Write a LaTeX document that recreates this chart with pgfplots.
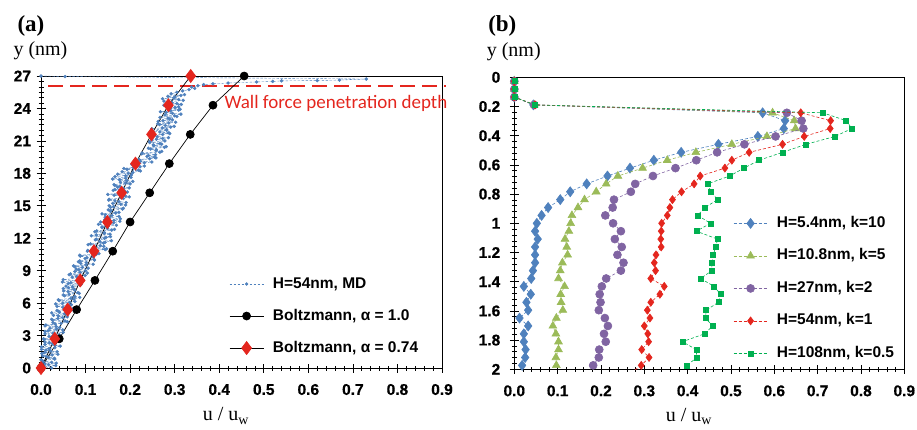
\documentclass[border=0pt]{standalone}
\usepackage{pgfplots}
\pgfplotsset{compat=1.18}
\usepackage{fontspec}
\setmainfont{Liberation Serif}
\setsansfont{Liberation Sans}
\newfontfamily\carlito{Carlito}
\newfontfamily\tickfont{Liberation Sans Bold}[FakeBold=0.6]
\definecolor{mdblue}{RGB}{79,129,189}
\definecolor{bzred}{RGB}{228,38,30}
\definecolor{olivec}{RGB}{155,187,89}
\definecolor{purp}{RGB}{128,100,162}
\definecolor{grn}{RGB}{0,176,80}
\pgfplotsset{
  mystyle/.style={
    scale only axis,
    axis line style={line width=0.9pt},
    tick align=center,
    major tick length=9pt,
    minor tick length=5pt,
    tick style={black, line width=0.6pt},
    xtick pos=bottom, ytick pos=left,
    tick label style={font=\tickfont\fontsize{15.5}{15.5}\selectfont},
    /pgf/number format/assume math mode=true,
    xticklabel={\tickfont\pgfmathprintnumber{\tick}},
    yticklabel={\tickfont\pgfmathprintnumber{\tick}},
    xmin=0, xmax=0.9,
    xtick={0,0.1,0.2,0.3,0.4,0.5,0.6,0.7,0.8,0.9},
    x tick label style={/pgf/number format/fixed, /pgf/number format/fixed zerofill, /pgf/number format/precision=1},
    xticklabel style={yshift=-8pt},
    minor x tick num=4,
    legend cell align=left,
    legend image code/.code={\draw[mark repeat=2,mark phase=2,##1] plot coordinates {(0pt,0pt) (17pt,0pt) (34pt,0pt)};},
    legend style={draw=none, fill=none, inner sep=0pt,
      font=\fontsize{15.5}{15.5}\selectfont\sffamily\bfseries,
      nodes={inner sep=0pt, text height=11pt, text depth=3pt},
      /tikz/every odd column/.append style={column sep=9pt}},
  },
  mdstyle/.style={mdblue, line width=0.4pt, dash pattern=on 2.5pt off 1.5pt, mark=*, mark size=1.5pt, mark options={solid}},
}
\begin{document}
\begin{tikzpicture}
\path[use as bounding box] (0pt,0pt) rectangle (917pt,429pt);
% ---------------- panel (a)
\begin{axis}[mystyle, at={(41pt,61pt)}, anchor=south west,
  width=401pt, height=292pt, clip=false,
  ymin=0, ymax=27, ytick={0,3,...,27}, minor y tick num=5,
  yticklabel style={xshift=-2pt},
  legend style={at={(axis description cs:0.469,0.178)}, anchor=west, row sep=18pt}]
\addplot[mdstyle] coordinates {
(0.024,0) (0.002,0.15) (0.017,0.30) (0.034,0.45) (0.005,0.60) (0.000,0.75) (0.030,0.90) (0.012,1.05) (0.025,1.20) (0.002,1.35) (0.036,1.50) (0.011,1.65) (0.018,1.80) (0.001,1.95) (0.032,2.10) (0.026,2.25) (0.009,2.40) (0.045,2.55) (0.006,2.70) (0.026,2.85)
(0.027,3.00) (0.009,3.15) (0.050,3.30) (0.016,3.45) (0.035,3.60) (0.042,3.75) (0.009,3.90) (0.032,4.05) (0.027,4.20) (0.054,4.35) (0.024,4.50) (0.049,4.65) (0.039,4.80) (0.059,4.95) (0.024,5.10) (0.039,5.25) (0.071,5.40) (0.056,5.55) (0.036,5.70) (0.068,5.85)
(0.049,6.00) (0.076,6.15) (0.039,6.30) (0.067,6.45) (0.076,6.60) (0.050,6.75) (0.086,6.90) (0.061,7.05) (0.076,7.20) (0.050,7.35) (0.071,7.50) (0.088,7.65) (0.061,7.80) (0.048,7.95) (0.081,8.10) (0.091,8.25) (0.070,8.40) (0.099,8.55) (0.066,8.70) (0.088,8.85)
(0.100,9.00) (0.079,9.15) (0.093,9.30) (0.073,9.45) (0.117,9.60) (0.102,9.75) (0.087,9.90) (0.119,10.05) (0.103,10.20) (0.088,10.35) (0.124,10.50) (0.120,10.65) (0.104,10.80) (0.144,10.95) (0.119,11.10) (0.141,11.25) (0.106,11.40) (0.140,11.55) (0.132,11.70) (0.122,11.85)
(0.143,12.00) (0.156,12.15) (0.124,12.30) (0.142,12.45) (0.121,12.60) (0.159,12.75) (0.149,12.90) (0.137,13.05) (0.169,13.20) (0.145,13.35) (0.134,13.50) (0.164,13.65) (0.178,13.80) (0.144,13.95) (0.159,14.10) (0.137,14.25) (0.175,14.40) (0.157,14.55) (0.183,14.70) (0.156,14.85)
(0.153,15.00) (0.179,15.15) (0.191,15.30) (0.166,15.45) (0.153,15.60) (0.180,15.75) (0.190,15.90) (0.150,16.05) (0.178,16.20) (0.188,16.35) (0.166,16.50) (0.198,16.65) (0.177,16.80) (0.164,16.95) (0.190,17.10) (0.206,17.25) (0.176,17.40) (0.190,17.55) (0.166,17.70) (0.203,17.85)
(0.196,18.00) (0.182,18.15) (0.219,18.30) (0.186,18.45) (0.222,18.60) (0.216,18.75) (0.213,18.90) (0.249,19.05) (0.214,19.20) (0.244,19.35) (0.255,19.50) (0.241,19.65) (0.226,19.80) (0.267,19.95) (0.258,20.10) (0.246,20.25) (0.277,20.40) (0.253,20.55) (0.271,20.70) (0.244,20.85)
(0.278,21.00) (0.259,21.15) (0.286,21.30) (0.252,21.45) (0.273,21.60) (0.287,21.75) (0.250,21.90) (0.282,22.05) (0.272,22.20) (0.299,22.35) (0.266,22.50) (0.287,22.65) (0.263,22.80) (0.295,22.95) (0.285,23.10) (0.305,23.25) (0.278,23.40) (0.295,23.55) (0.268,23.70) (0.309,23.85)
(0.291,24.00) (0.309,24.15) (0.276,24.30) (0.305,24.45) (0.286,24.60) (0.319,24.75) (0.273,24.90) (0.301,25.05) (0.314,25.20) (0.292,25.35)
(0.305,25.50) (0.318,25.62) (0.332,25.74) (0.345,25.86) (0.338,25.98) (0.352,26.10) (0.365,26.20) (0.386,26.28) (0.420,26.35) (0.484,26.45) (0.520,26.50) (0.540,26.55) (0.620,26.58) (0.670,26.62) (0.730,26.72) (0.054,26.95) (0.000,27.00)
};
\addlegendentry{H=54nm, MD}
\addplot[mdstyle, forget plot] coordinates {
(0.000,0.075) (0.033,0.225) (0.009,0.375) (0.024,0.525) (0.003,0.675) (0.031,0.825) (0.017,0.975) (0.004,1.125) (0.038,1.275) (0.008,1.425) (0.022,1.575) (0.001,1.725) (0.031,1.875) (0.043,2.025) (0.009,2.175) (0.019,2.325) (0.039,2.475) (0.007,2.625) (0.031,2.775) (0.018,2.925)
(0.041,3.075) (0.027,3.225) (0.009,3.375) (0.049,3.525) (0.020,3.675) (0.034,3.825) (0.011,3.975) (0.045,4.125) (0.059,4.275) (0.026,4.425) (0.038,4.575) (0.059,4.725) (0.028,4.875) (0.053,5.025) (0.041,5.175) (0.036,5.325) (0.071,5.475) (0.049,5.625) (0.065,5.775) (0.033,5.925)
(0.064,6.075) (0.041,6.225) (0.074,6.375) (0.087,6.525) (0.053,6.675) (0.063,6.825) (0.083,6.975) (0.051,7.125) (0.075,7.275) (0.062,7.425) (0.056,7.575) (0.090,7.725) (0.067,7.875) (0.082,8.025) (0.050,8.175) (0.092,8.325) (0.080,8.475) (0.063,8.625) (0.104,8.775) (0.076,8.925)
(0.085,9.075) (0.106,9.225) (0.076,9.375) (0.101,9.525) (0.089,9.675) (0.084,9.825) (0.120,9.975) (0.099,10.125) (0.117,10.275) (0.087,10.425) (0.130,10.575) (0.120,10.725) (0.105,10.875) (0.147,11.025) (0.119,11.175) (0.133,11.325) (0.111,11.475) (0.144,11.625) (0.158,11.775) (0.124,11.925)
(0.146,12.075) (0.113,12.225) (0.155,12.375) (0.142,12.525) (0.125,12.675) (0.165,12.825) (0.137,12.975) (0.151,13.125) (0.129,13.275) (0.163,13.425) (0.177,13.575) (0.143,13.725) (0.154,13.875) (0.175,14.025) (0.144,14.175) (0.168,14.325) (0.156,14.475) (0.151,14.625) (0.185,14.775) (0.163,14.925)
(0.190,15.075) (0.161,15.225) (0.175,15.375) (0.152,15.525) (0.185,15.675) (0.198,15.825) (0.164,15.975) (0.174,16.125) (0.194,16.275) (0.162,16.425) (0.186,16.575) (0.172,16.725) (0.166,16.875) (0.200,17.025) (0.178,17.175) (0.193,17.325) (0.161,17.475) (0.202,17.625) (0.190,17.775) (0.172,17.925)
(0.206,18.075) (0.223,18.225) (0.193,18.375) (0.207,18.525) (0.232,18.675) (0.204,18.825) (0.232,18.975) (0.223,19.125) (0.220,19.275) (0.258,19.425) (0.238,19.575) (0.257,19.725) (0.227,19.875) (0.271,20.025) (0.259,20.175) (0.241,20.325) (0.281,20.475) (0.252,20.625) (0.267,20.775) (0.244,20.925)
(0.249,21.075) (0.273,21.225) (0.261,21.375) (0.255,21.525) (0.289,21.675) (0.267,21.825) (0.282,21.975) (0.249,22.125) (0.291,22.275) (0.279,22.425) (0.262,22.575) (0.302,22.725) (0.274,22.875) (0.289,23.025) (0.267,23.175) (0.300,23.325) (0.314,23.475) (0.281,23.625) (0.291,23.775) (0.312,23.925)
(0.301,24.075) (0.280,24.225) (0.315,24.375) (0.294,24.525) (0.276,24.675) (0.309,24.825) (0.298,24.975) (0.285,25.125) (0.322,25.275)
};
\addplot[bzred, line width=2.2pt, dash pattern=on 15pt off 7pt, forget plot] coordinates {(0.016,26.1) (0.91,26.1)};
\addplot[black, line width=0.7pt, mark=*, mark size=4pt] coordinates {
(0,0) (0.041,2.7) (0.080,5.4) (0.121,8.1) (0.161,10.8) (0.200,13.5) (0.244,16.2) (0.288,18.9) (0.335,21.6) (0.386,24.3) (0.456,27)};
\addlegendentry{Boltzmann, α = 1.0}
\addplot[black, line width=0.7pt, mark=diamond*, mark size=6.5pt, mark options={fill=bzred, draw=bzred}] coordinates {
(0,0) (0.031,2.7) (0.060,5.4) (0.088,8.1) (0.119,10.8) (0.149,13.5) (0.181,16.2) (0.212,18.9) (0.248,21.6) (0.286,24.3) (0.336,27)};
\addlegendentry{Boltzmann, α = 0.74}
\node[anchor=west, text=bzred, font=\carlito\fontsize{19}{19}\selectfont] at (axis cs:0.404,24.5) {Wall force penetration depth};
\node[anchor=west, xshift=-31pt, yshift=25pt, font=\fontsize{20}{20}\selectfont] at (axis description cs:0,1) {y (nm)};
\node[xshift=-10pt, yshift=50pt, font=\bfseries\fontsize{23}{23}\selectfont] at (axis description cs:0,1) {(a)};
\node[yshift=-48pt, font=\fontsize{20}{20}\selectfont] at (axis description cs:0.461,0) {u / u\textsubscript{w}};
\end{axis}
% ---------------- panel (b)
\begin{axis}[mystyle, at={(514.3pt,59.7pt)}, anchor=south west,
  width=390pt, height=292pt, clip mode=individual,
  ymin=0, ymax=2, y dir=reverse,
  ytick={0,0.2,0.4,0.6,0.8,1,1.2,1.4,1.6,1.8,2}, minor y tick num=4,
  y tick label style={/pgf/number format/fixed, /pgf/number format/precision=1},
  yticklabel style={xshift=-6pt},
  legend style={at={(axis description cs:0.561,0.277)}, anchor=west, row sep=18.5pt}]
\addplot[mdblue, line width=0.6pt, dash pattern=on 3pt off 2pt, mark=diamond*, mark size=5pt, mark options={solid}] coordinates {
(0,0.027) (0,0.081) (0,0.135) (0.044,0.189) (0.573,0.243) (0.625,0.297) (0.622,0.351) (0.562,0.405) (0.471,0.459) (0.385,0.514) (0.322,0.568) (0.267,0.622) (0.215,0.676) (0.167,0.730) (0.129,0.784) (0.106,0.838) (0.078,0.892) (0.063,0.946) (0.052,1.000) (0.048,1.054) (0.054,1.108) (0.048,1.162) (0.048,1.216) (0.048,1.270) (0.043,1.324) (0.039,1.378) (0.022,1.432) (0.038,1.486) (0.028,1.541) (0.032,1.595) (0.012,1.649) (0.032,1.703) (0.022,1.757) (0.022,1.811) (0.026,1.865) (0.025,1.919) (0.018,1.973)};
\addlegendentry{H=5.4nm, k=10}
\addplot[olivec, line width=0.6pt, dash pattern=on 3pt off 2pt, mark=triangle*, mark size=4.5pt, mark options={solid}] coordinates {
(0,0.027) (0,0.081) (0,0.135) (0.046,0.189) (0.596,0.243) (0.646,0.297) (0.649,0.351) (0.583,0.405) (0.502,0.459) (0.419,0.514) (0.353,0.568) (0.296,0.622) (0.239,0.676) (0.212,0.730) (0.189,0.784) (0.162,0.838) (0.147,0.892) (0.133,0.946) (0.130,1.000) (0.126,1.054) (0.117,1.108) (0.121,1.162) (0.123,1.216) (0.111,1.270) (0.106,1.324) (0.102,1.378) (0.116,1.432) (0.107,1.486) (0.108,1.541) (0.112,1.595) (0.097,1.649) (0.089,1.703) (0.096,1.757) (0.102,1.811) (0.102,1.865) (0.096,1.919) (0.097,1.973)};
\addlegendentry{H=10.8nm, k=5}
\addplot[purp, line width=0.6pt, dash pattern=on 3pt off 2pt, mark=*, mark size=4pt, mark options={solid}] coordinates {
(0,0.027) (0,0.081) (0,0.135) (0.046,0.189) (0.629,0.243) (0.663,0.297) (0.667,0.351) (0.603,0.405) (0.531,0.459) (0.468,0.514) (0.420,0.568) (0.372,0.622) (0.320,0.676) (0.279,0.730) (0.269,0.784) (0.230,0.838) (0.227,0.892) (0.210,0.946) (0.228,1.000) (0.246,1.054) (0.232,1.108) (0.248,1.162) (0.238,1.216) (0.252,1.270) (0.246,1.324) (0.212,1.378) (0.202,1.432) (0.197,1.486) (0.199,1.541) (0.195,1.595) (0.209,1.649) (0.216,1.703) (0.207,1.757) (0.211,1.811) (0.196,1.865) (0.195,1.919) (0.182,1.973)};
\addlegendentry{H=27nm, k=2}
\addplot[bzred, line width=0.6pt, dash pattern=on 3pt off 2pt, mark=diamond*, mark size=4pt, mark options={solid}] coordinates {
(0,0.027) (0,0.081) (0,0.135) (0.048,0.189) (0.661,0.243) (0.730,0.297) (0.729,0.351) (0.669,0.405) (0.619,0.459) (0.542,0.514) (0.502,0.568) (0.486,0.622) (0.429,0.676) (0.415,0.730) (0.386,0.784) (0.365,0.838) (0.359,0.892) (0.353,0.946) (0.340,1.000) (0.339,1.054) (0.338,1.108) (0.339,1.162) (0.327,1.216) (0.323,1.270) (0.326,1.324) (0.315,1.378) (0.346,1.432) (0.336,1.486) (0.315,1.541) (0.307,1.595) (0.313,1.649) (0.300,1.703) (0.308,1.757) (0.310,1.811) (0.294,1.865) (0.311,1.919) (0.293,1.973)};
\addlegendentry{H=54nm, k=1}
\addplot[grn, line width=0.6pt, dash pattern=on 3pt off 2pt, mark=square*, mark size=2.5pt, mark options={solid}] coordinates {
(0,0.027) (0,0.081) (0,0.135) (0.048,0.189) (0.712,0.243) (0.766,0.297) (0.779,0.351) (0.740,0.405) (0.673,0.459) (0.619,0.514) (0.565,0.568) (0.530,0.622) (0.497,0.676) (0.446,0.730) (0.454,0.784) (0.469,0.838) (0.440,0.892) (0.423,0.946) (0.453,1.000) (0.420,1.054) (0.469,1.108) (0.465,1.162) (0.459,1.216) (0.456,1.270) (0.456,1.324) (0.430,1.378) (0.461,1.432) (0.476,1.486) (0.471,1.541) (0.443,1.595) (0.441,1.649) (0.458,1.703) (0.439,1.757) (0.388,1.811) (0.420,1.865) (0.421,1.919) (0.399,1.973)};
\addlegendentry{H=108nm, k=0.5}
\addplot[purp, line width=0.6pt, dash pattern=on 3pt off 2pt, forget plot] coordinates {(0.182,1.973) (0.172,2.027)};
\addplot[bzred, line width=0.6pt, dash pattern=on 3pt off 2pt, forget plot] coordinates {(0.293,1.973) (0.268,2.027)};
\node[anchor=west, xshift=-31pt, yshift=26pt, font=\fontsize{20}{20}\selectfont] at (axis description cs:0,1) {y (nm)};
\node[xshift=-12pt, yshift=51pt, font=\bfseries\fontsize{23}{23}\selectfont] at (axis description cs:0,1) {(b)};
\node[yshift=-47pt, font=\fontsize{20}{20}\selectfont] at (axis description cs:0.448,0) {u / u\textsubscript{w}};
\end{axis}
\end{tikzpicture}
\end{document}
